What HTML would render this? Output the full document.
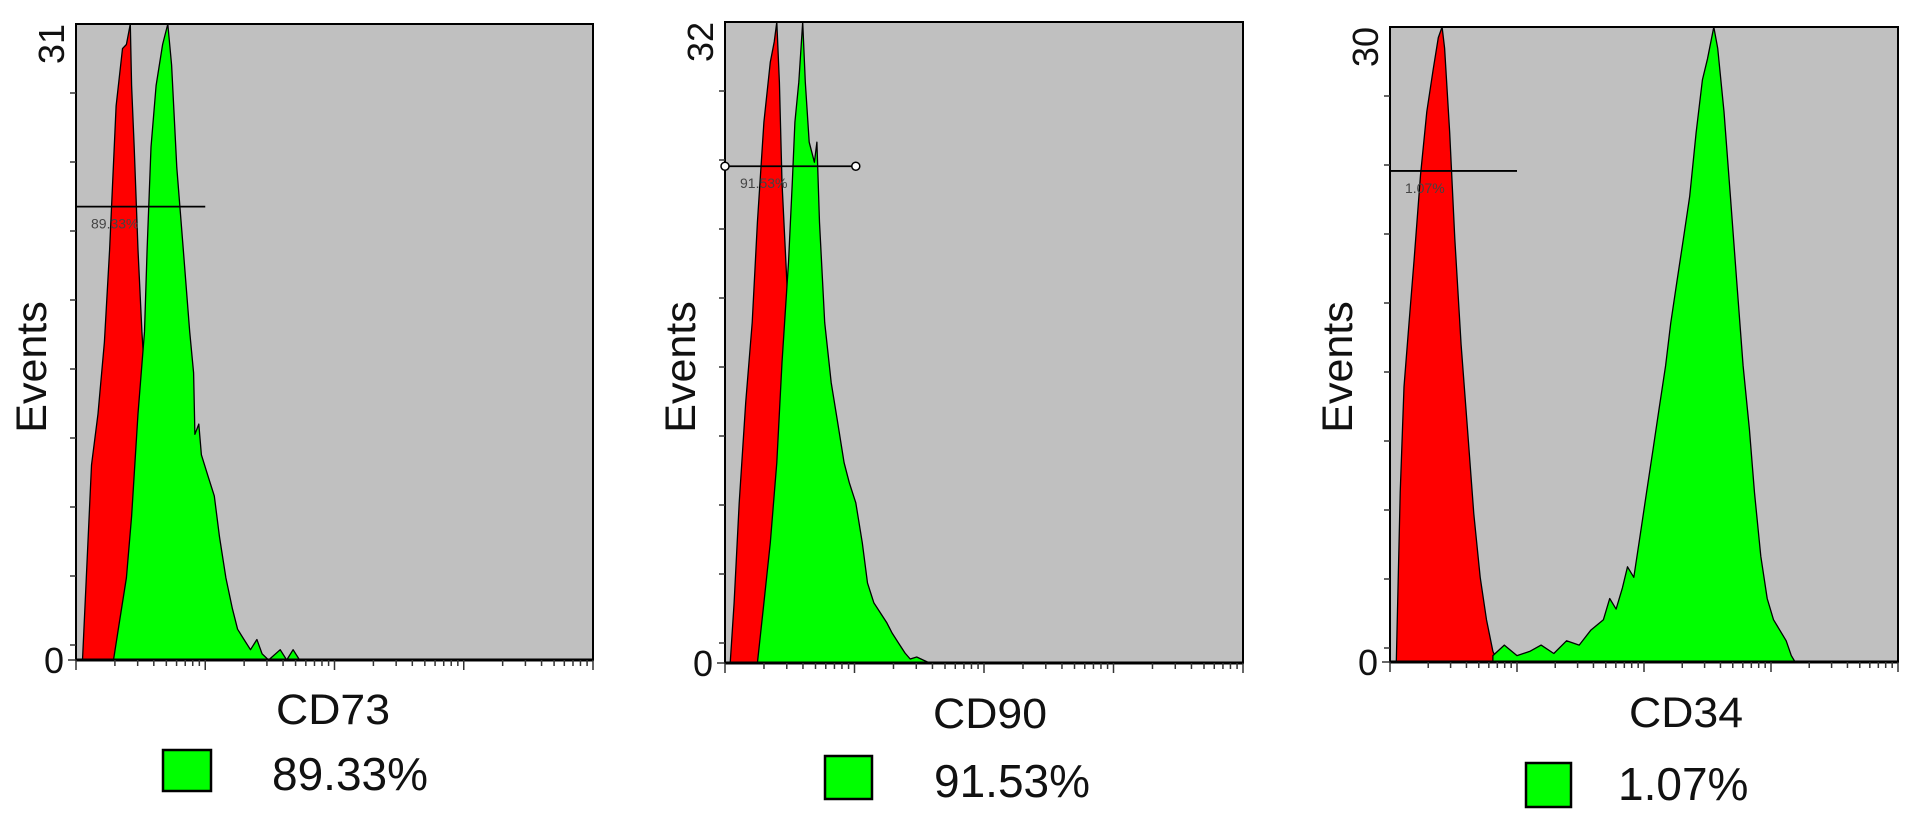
<!DOCTYPE html>
<html><head><meta charset="utf-8"><style>
html,body{margin:0;padding:0;background:#fff;}
svg{display:block;font-family:"Liberation Sans",Arial,sans-serif;}
</style></head><body>
<svg id="fig" width="1913" height="822" viewBox="0 0 1913 822" xmlns="http://www.w3.org/2000/svg"></svg>
<script>
// ---- Panel 1: CD73 ----
const p1RedX = [0.05,0.08,0.12,0.17,0.22,0.26,0.31,0.36,0.39,0.42,0.43,0.45,0.48,0.51,0.55,0.59,0.64,0.69,0.74];
const p1RedY = [0,4,9.5,12,15.5,20,27,29.8,30,31,28,25,20,16,12,8,4,1,0];
const p1GreenX = [0.29,0.34,0.39,0.43,0.48,0.53,0.55,0.58,0.62,0.67,0.71,0.74,0.78,0.83,0.88,0.91,0.92,0.95,0.97,1.02,1.07,1.11,1.16,1.21,1.25,1.30,1.35,1.40,1.44,1.49,1.58,1.63,1.68,1.73];
const p1GreenY = [0,2,4,7,12,16,20,25,28,30,31,29,24,20,16,14,11,11.5,10,9,8,6,4,2.5,1.5,1,0.5,1,0.3,0,0.5,0,0.5,0];
const p1Gate = [0, 1.0, 22.1];
// ---- Panel 2: CD90 ----
const p2RedX = [0.04,0.07,0.11,0.16,0.21,0.25,0.30,0.35,0.38,0.40,0.42,0.44,0.47,0.50,0.54,0.58,0.63,0.68,0.73];
const p2RedY = [0,3,8,13,17,22,27,30,31,32,29,24,20,16,12,8,4,1,0];
const p2GreenX = [0.25,0.30,0.35,0.40,0.44,0.49,0.52,0.54,0.57,0.58,0.60,0.62,0.65,0.69,0.71,0.73,0.77,0.82,0.87,0.92,0.96,1.01,1.06,1.10,1.15,1.20,1.25,1.29,1.34,1.39,1.43,1.48,1.58];
const p2GreenY = [0,3,6,10,15,20,24,27,29,30,32,29,26,25,26,22,17,14,12,10,9,8,6,4,3,2.5,2,1.5,1,0.5,0.2,0.3,0];
const p2Gate = [0, 1.01, 24.8];
// ---- Panel 3: CD34 ----
const p3RedX = [0.05,0.08,0.11,0.15,0.19,0.24,0.29,0.34,0.38,0.41,0.43,0.47,0.51,0.56,0.61,0.66,0.71,0.76,0.81,0.85];
const p3RedY = [0,8,13,16,19,23,26,28,29.5,30,29,25,20,15,11,7,4,2,0.5,0];
const p3GreenX = [0.81,0.90,1.00,1.10,1.19,1.29,1.39,1.49,1.58,1.68,1.73,1.78,1.83,1.87,1.92,1.97,2.02,2.07,2.12,2.17,2.21,2.26,2.31,2.36,2.41,2.46,2.50,2.55,2.58,2.63,2.68,2.73,2.78,2.83,2.87,2.92,2.97,3.02,3.07,3.12,3.16,3.19];
const p3GreenY = [0.3,0.8,0.3,0.5,0.8,0.4,1,0.8,1.5,2,3,2.5,3.5,4.5,4,6,8,10,12,14,16,18,20,22,25,27.5,28.5,30,29,26,22,18,14,11,8,5,3,2,1.5,1,0.3,0];
const p3Gate = [0, 1.0, 23.2];

const yMaxLabels = ["31","32","30"];
const markerNames = ["CD73","CD90","CD34"];
const percentLabels = ["89.33%","91.53%","1.07%"];
const gateLabels = ["89.33%","91.53%","1.07%"];

const NS = "http://www.w3.org/2000/svg";
const svg = document.getElementById('fig');
function mk(tag, attrs, parent){const e=document.createElementNS(NS,tag);for(const k in attrs)e.setAttribute(k,attrs[k]);(parent||svg).appendChild(e);return e;}

const panels = [
  {l:76,t:24,r:593,b:660,ymax:31,red:[p1RedX,p1RedY],green:[p1GreenX,p1GreenY],gate:p1Gate,handles:false,
   box:[163,750,48,41],pct:[272,790],cd:[333,724],ev:31},
  {l:725,t:22,r:1243,b:663,ymax:32,red:[p2RedX,p2RedY],green:[p2GreenX,p2GreenY],gate:p2Gate,handles:true,
   box:[825,756,47,43],pct:[934,797],cd:[990,728],ev:680},
  {l:1390,t:27,r:1898,b:662,ymax:30,red:[p3RedX,p3RedY],green:[p3GreenX,p3GreenY],gate:p3Gate,handles:false,
   box:[1526,763,45,44],pct:[1618,800],cd:[1686,727],ev:1337}
];

panels.forEach((p,i)=>{
  const g = mk('g',{});
  
  
  const xs = v => p.l + v*(p.r-p.l)/4;
  const ys = c => p.b - c*(p.b-p.t)/p.ymax;
  const bg = mk('rect',{x:p.l,y:p.t,width:p.r-p.l,height:p.b-p.t,fill:'#c0c0c0',stroke:'#000','stroke-width':2},g);
  
  
  const area = (X,Y,col,name)=>{
    let d='M'+xs(X[0])+','+p.b;
    for(let k=0;k<X.length;k++) d+=' L'+xs(X[k]).toFixed(1)+','+ys(Y[k]).toFixed(1);
    d+=' L'+xs(X[X.length-1])+','+p.b+' Z';
    const e=mk('path',{d:d,fill:col,stroke:'#000','stroke-width':1.3,'stroke-linejoin':'round'},g);
    
    
  };
  area(p.red[0],p.red[1],'#ff0000','isotype-control-histogram');
  area(p.green[0],p.green[1],'#00ff00','marker-histogram');
  // x axis baseline & ticks
  const ax = mk('line',{x1:p.l,y1:p.b,x2:p.r,y2:p.b,stroke:'#000','stroke-width':3},g);
  
  
  for(let dec=0;dec<4;dec++){
    for(let m=1;m<=9;m++){
      const v=dec+Math.log10(m); const x=xs(v);
      mk('line',{x1:x,y1:p.b,x2:x,y2:p.b+(m===1?10:6),stroke:'#333','stroke-width':1.5},g);
    }
  }
  mk('line',{x1:p.r,y1:p.b,x2:p.r,y2:p.b+10,stroke:'#333','stroke-width':1.5},g);
  // y ticks
  for(let y=p.t+69;y<p.b;y+=69){ mk('line',{x1:p.l-6,y1:y,x2:p.l,y2:y,stroke:'#333','stroke-width':1.5},g); }
  mk('line',{x1:p.l-8,y1:p.b,x2:p.l,y2:p.b,stroke:'#333','stroke-width':1.5},g);
  // y labels
  const ym = mk('text',{x:0,y:0,'font-size':36,fill:'#111','text-anchor':'end',transform:'translate('+(p.l-12)+','+p.t+') rotate(-90)'},g);
  ym.textContent=yMaxLabels[i];
  
  
  const y0 = mk('text',{x:p.l-12,y:p.b+13,'font-size':36,fill:'#111','text-anchor':'end'},g);
  y0.textContent='0';
  
  
  const ev = mk('text',{x:0,y:0,'font-size':43,fill:'#111','text-anchor':'middle',transform:'translate('+(p.ev+15)+',367) rotate(-90)'},g);
  ev.textContent='Events';
  
  
  const cd = mk('text',{x:p.cd[0],y:p.cd[1],'font-size':43,fill:'#111','text-anchor':'middle',textLength:114,lengthAdjust:'spacingAndGlyphs'},g);
  cd.textContent=markerNames[i];
  
  
  // gate
  const gy=ys(p.gate[2]);
  const gl=mk('line',{x1:xs(p.gate[0]),y1:gy,x2:xs(p.gate[1]),y2:gy,stroke:'#000','stroke-width':1.8},g);
  
  
  if(p.handles){
    [p.gate[0],p.gate[1]].forEach(v=>{
      const c=mk('circle',{cx:xs(v),cy:gy,r:4,fill:'#fff',stroke:'#000','stroke-width':1.5},g);
      
      
    });
  }
  const gt=mk('text',{x:xs(p.gate[0])+15,y:gy+22,'font-size':14,fill:'#444'},g);
  gt.textContent=gateLabels[i];
  
  
  // legend
  const lb=mk('rect',{x:p.box[0],y:p.box[1],width:p.box[2],height:p.box[3],fill:'#00ff00',stroke:'#000','stroke-width':2.5},g);
  
  
  const lt=mk('text',{x:p.pct[0],y:p.pct[1],'font-size':46,fill:'#111'},g);
  lt.textContent=percentLabels[i];
  
  
});
</script>
</body></html>
